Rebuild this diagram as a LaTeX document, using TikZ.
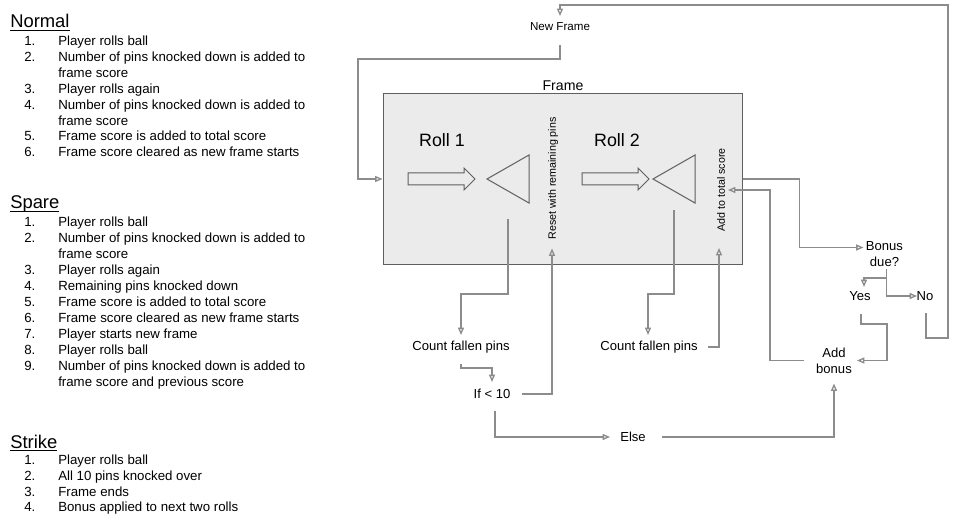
\documentclass[tikz,border=0pt]{standalone}
\usepackage{fontspec}
\setmainfont{Liberation Sans}
\usetikzlibrary{arrows.meta,calc}

\definecolor{linegray}{RGB}{140,140,140}
\definecolor{boxgray}{RGB}{235,235,235}
\definecolor{edgegray}{RGB}{95,95,95}

\tikzset{
    conn/.style={draw=linegray, line width=1pt, -{Triangle[open,length=5.5pt,width=4.5pt]}},
    lbl/.style={inner sep=0pt, font=\fontsize{9.8}{12}\selectfont, align=center},
    head/.style={inner sep=0pt, anchor=base west, font=\fontsize{13.8}{16}\selectfont},
    item/.style={inner sep=0pt, anchor=base west, font=\fontsize{9.95}{11.8}\selectfont},
    framebox/.style={draw=edgegray, fill=boxgray, line width=0.75pt, inner sep=0pt,
        minimum width=269.25pt, minimum height=127.5pt},
    blockarrow/.style={draw=edgegray, fill=boxgray, line width=0.75pt},
    pintri/.style={draw=edgegray, line width=0.75pt},
}

\begin{document}
\begin{tikzpicture}[x=0.75pt, y=-0.75pt]
        \useasboundingbox (0,0) rectangle (958,528);

        % rule lists
        \node[head] (normal) at (10,28) {\underline{Normal}};
        \foreach \n/\t [count=\i from 0] in {1./Player rolls ball, 2./Number of pins knocked down is added to, /frame score, 3./Player rolls again, 4./Number of pins knocked down is added to, /frame score, 5./Frame score is added to total score, 6./Frame score cleared as new frame starts}{
            \node[item] (normal-n\i) at (24, 45.6+15.9*\i) {\n};
            \node[item] (normal-t\i) at (58, 45.6+15.9*\i) {\t};
        }
        \node[head] (spare) at (10,209) {\underline{\smash{Spare}}};
        \foreach \n/\t [count=\i from 0] in {1./Player rolls ball, 2./Number of pins knocked down is added to, /frame score, 3./Player rolls again, 4./Remaining pins knocked down, 5./Frame score is added to total score, 6./Frame score cleared as new frame starts, 7./Player starts new frame, 8./Player rolls ball, 9./Number of pins knocked down is added to, /frame score and previous score}{
            \node[item] (spare-n\i) at (24, 226.5+15.95*\i) {\n};
            \node[item] (spare-t\i) at (58, 226.5+15.95*\i) {\t};
        }
        \node[head] (strike) at (10,448) {\underline{Strike}};
        \foreach \n/\t [count=\i from 0] in {1./Player rolls ball, 2./All 10 pins knocked over, 3./Frame ends, 4./Bonus applied to next two rolls}{
            \node[item] (strike-n\i) at (24, 464.5+15.8*\i) {\n};
            \node[item] (strike-t\i) at (58, 464.5+15.8*\i) {\t};
        }

        % frame
        \node[framebox] (frame) at (562.5,179) {};
        \node[lbl, anchor=base, font=\fontsize{10.6}{12}\selectfont] (framename) at (563,91) {Frame};
        \node[lbl, anchor=base, font=\fontsize{13.4}{16}\selectfont] (roll1) at (442,146.7) {Roll 1};
        \node[lbl, anchor=base, font=\fontsize{13.4}{16}\selectfont] (roll2) at (617,146.7) {Roll 2};
        \foreach \ax/\tx in {408/487, 582/653}{
            \draw[blockarrow] (\ax,173) -- ++(56,0) -- ++(0,-5) -- ++(11,11) -- ++(-11,11) -- ++(0,-5) -- ++(-56,0) -- cycle;
            \draw[pintri] (\tx,179) -- ++(42,-24) -- ++(0,48) -- cycle;
        }
        \coordinate (pin1) at (508,219);
        \coordinate (pin2) at (674,210);
        \node[lbl, rotate=90, font=\fontsize{8}{10}\selectfont] (reset) at (553,178.5) {Reset with remaining pins};
        \node[lbl, rotate=90, font=\fontsize{8}{10}\selectfont] (addtotal) at (721,190) {Add to total score};

        % flow nodes
        \node[lbl, font=\fontsize{8.7}{10}\selectfont] (newframe) at (560,27) {New Frame};
        \node[lbl] (count1) at (461,347) {Count fallen pins};
        \node[lbl] (count2) at (649,347) {Count fallen pins};
        \node[lbl] (iflt) at (492,394) {If < 10};
        \node[lbl] (else) at (633,437) {Else};
        \node[lbl] (bonusdue) at (884.5,254) {Bonus\\due?};
        \node[lbl] (yes) at (860,296) {Yes};
        \node[lbl] (no) at (925,296) {No};
        \node[lbl] (addbonus) at (834,360.5) {Add\\bonus};

        % connectors
        \draw[conn] ($(newframe)+(0,18)$) |- (358,59) |- (frame.west);
        \draw[conn] (pin1) -- ++(0,75) -| ($(count1)+(0,-12)$);
        \draw[conn] (pin2) -- ++(0,84) -| ($(count2)+(-1,-12)$);
        \draw[conn] ($(count1)+(0,17)$) -- ++(0,4) -| ($(iflt)+(0,-12)$);
        \draw[conn] ($(iflt)+(30,0)$) -| ($(reset)+(-1,70)$);
        \draw[conn] ($(count2)+(59,0)$) -| ($(addtotal)+(-2,58)$);
        \draw[conn] ($(iflt)+(3,17)$) |- ($(else)+(-23,0)$);
        \draw[conn] ($(else)+(29,0)$) -| ($(addbonus)+(0,23)$);
        \draw[conn] (frame.east) -- ++(57,0) |- ($(bonusdue)+(-21,-6.5)$);
        \draw[conn] ($(bonusdue)+(2,15)$) -- ++(0,9) -| ($(yes)+(4,-9)$);
        \draw[conn] ($(bonusdue)+(2,15)$) |- ($(no)+(-8,0)$);
        \draw[conn] ($(yes)+(1,18)$) -- ++(0,10) -- ++(26,0) |- ($(addbonus)+(23,0)$);
        \draw[conn] ($(addbonus)+(-30,0)$) -- ++(-34,0) |- ($(addtotal)+(7,0)$);
        \draw[conn] ($(no)+(1,17)$) -- ++(0,25) -| (948,5) -| ($(newframe)+(0,-11)$);
    \end{tikzpicture}
\end{document}
